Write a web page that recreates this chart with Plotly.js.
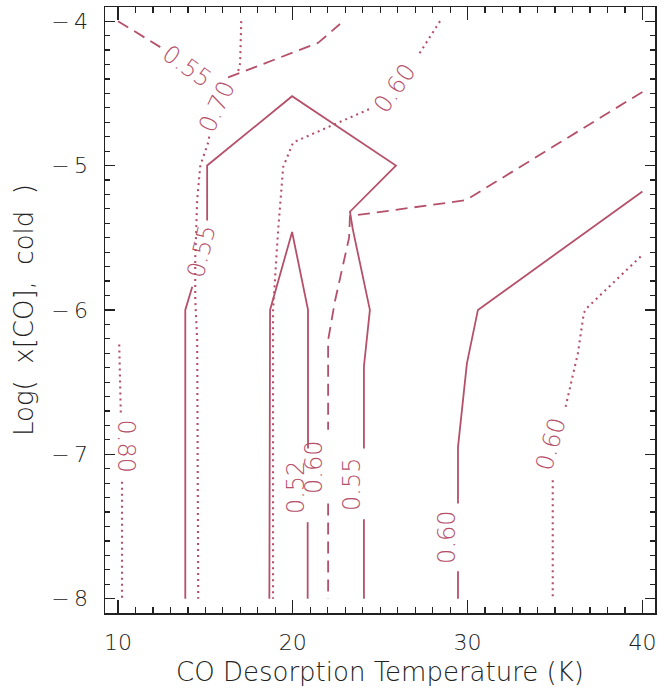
<!DOCTYPE html>
<html><head><meta charset="utf-8">
<script src="https://cdn.plot.ly/plotly-3.0.1.min.js"></script>
<style>html,body{margin:0;padding:0;background:#fff}#chart{width:672px;height:690px}</style>
</head><body><div id="chart"></div>
<script>
// Contour lines: x = CO desorption temperature (K), y = Log(x[CO], cold). null = gap left for a label.
const dashTopLeftX = [10.00, 12.42, null, 16.30, 21.45, 22.70];
const dashTopLeftY = [-4.00, -4.18, null, -4.39, -4.15, -4.02];

const dot070X = [17.05, 16.99, 16.87, null, 15.22, 15.16, 14.82, 14.70, 14.53, 14.42, 14.42, 14.53, 14.59];
const dot070Y = [-4.00, -4.29, -4.35, null, -4.80, -4.84, -4.96, -5.01, -5.24, -5.65, -5.93, -6.21, -8.00];

const solid055X = [13.85, 13.85, 14.25, null, 15.10, 15.10, 19.96, 25.90, 23.27, 23.43, 24.41, 24.07, 24.07, null, 24.07, 24.07];
const solid055Y = [-8.00, -6.00, -5.84, null, -5.38, -5.00, -4.52, -5.00, -5.32, -5.44, -6.00, -6.39, -6.96, null, -7.45, -8.00];

const solid052X = [18.66, 18.70, 19.96, 20.87, 20.87, 20.87, null, 20.85, 20.85];
const solid052Y = [-8.00, -6.00, -5.46, -6.00, -6.07, -6.96, null, -7.47, -8.00];

const dot060MidX = [28.42, 27.16, null, 24.36, 22.30, 20.02, 19.45, 19.16, 18.87, 18.87];
const dot060MidY = [-4.00, -4.24, null, -4.61, -4.72, -4.84, -5.01, -5.45, -6.00, -8.00];

const dash060X = [40.00, 29.90, 23.27, 23.22, 22.41, 22.02, 22.02, null, 22.02, 22.02];
const dash060Y = [-4.49, -5.24, -5.35, -5.50, -5.94, -6.21, -6.83, null, -7.34, -8.00];

const solid060X = [40.00, 30.59, 29.96, 29.45, 29.45, null, 29.45, 29.45];
const solid060Y = [-5.18, -6.00, -6.37, -6.95, -7.34, null, -7.81, -8.00];

const dot060RightX = [39.90, 36.88, 36.65, 36.31, 35.57, null, 34.87, 34.87];
const dot060RightY = [-5.63, -5.98, -6.02, -6.30, -6.69, null, -7.18, -8.00];

const dot080X = [10.07, 10.16, null, 10.23, 10.23];
const dot080Y = [-6.24, -6.71, null, -7.19, -8.00];

// Contour labels
const labelText  = ["0.55", "0.70", "0.60", "0.55", "0.52", "0.60", "0.55", "0.60", "0.80", "0.60"];
const labelX     = [13.90, 15.67, 25.79, 14.76, 20.19, 21.22, 23.39, 28.82, 10.47, 34.76];
const labelY     = [-4.314, -4.598, -4.467, -5.597, -7.233, -7.094, -7.212, -7.572, -6.941, -6.928];
const labelAngle = [36, -65, -55, -76, -90, -90, -90, -90, 90, -74];

const xTicks = [10, 20, 30, 40];
const yTicks = [-8, -7, -6, -5, -4];

const C = '#b5506a';
const FONT = 'DejaVu Sans';
const SOLID = 'solid', DASH = '12px,7px', DOT = '2px,4px';

function tr(x, y, dash, w) {
  return {x: x, y: y, type: 'scatter', mode: 'lines', connectgaps: false, hoverinfo: 'skip',
          line: {color: C, width: w, dash: dash}, showlegend: false};
}
const data = [
  tr(dashTopLeftX, dashTopLeftY, DASH, 1.8),
  tr(dot070X, dot070Y, DOT, 2.1),
  tr(solid055X, solid055Y, SOLID, 1.8),
  tr(solid052X, solid052Y, SOLID, 1.8),
  tr(dot060MidX, dot060MidY, DOT, 2.1),
  tr(dash060X, dash060Y, DASH, 1.8),
  tr(solid060X, solid060Y, SOLID, 1.8),
  tr(dot060RightX, dot060RightY, DOT, 2.1),
  tr(dot080X, dot080Y, DOT, 2.1)
];

const annotations = labelText.map((t, i) => ({
  x: labelX[i], y: labelY[i], xref: 'x', yref: 'y', text: t, showarrow: false,
  textangle: labelAngle[i], font: {family: FONT, size: 24, color: C, weight: 200}
}));

const titleFont = {family: FONT, size: 26, color: '#222', weight: 200};
const axisCommon = {
  ticks: 'inside', mirror: 'allticks', showline: true, linecolor: '#222', linewidth: 1.5,
  tickcolor: '#222', tickwidth: 1.3, showgrid: false, zeroline: false, fixedrange: true,
  tickfont: {family: FONT, size: 22, color: '#222', weight: 200}
};

const layout = {
  width: 672, height: 690,
  margin: {l: 105, r: 17, t: 7, b: 77},
  paper_bgcolor: '#fff', plot_bgcolor: '#fff',
  xaxis: Object.assign({}, axisCommon, {
    range: [9.257, 40.72], tickmode: 'array', tickvals: xTicks, ticktext: xTicks.map(String),
    ticklen: 13, ticklabelstandoff: 9,
    minor: {dtick: 1, tick0: 10, ticklen: 6, ticks: 'inside', tickcolor: '#222', tickwidth: 1.2},
    title: {text: 'CO Desorption Temperature (K)', standoff: 9, font: titleFont}
  }),
  yaxis: Object.assign({}, axisCommon, {
    range: [-8.099, -3.902], tickmode: 'array', tickvals: yTicks,
    ticktext: yTicks.map(v => '\u2212\u2009' + Math.abs(v)),
    ticklen: 10, ticklabelstandoff: 11,
    minor: {dtick: 0.1, tick0: -8, ticklen: 5, ticks: 'inside', tickcolor: '#222', tickwidth: 1.2},
    title: {text: 'Log(\u00a0\u00a0x[CO],\u00a0\u00a0cold\u00a0\u00a0)', standoff: 10, font: titleFont}
  }),
  annotations: annotations,
  hovermode: false
};

Plotly.newPlot('chart', data, layout, {displayModeBar: false, staticPlot: true});
</script></body></html>
